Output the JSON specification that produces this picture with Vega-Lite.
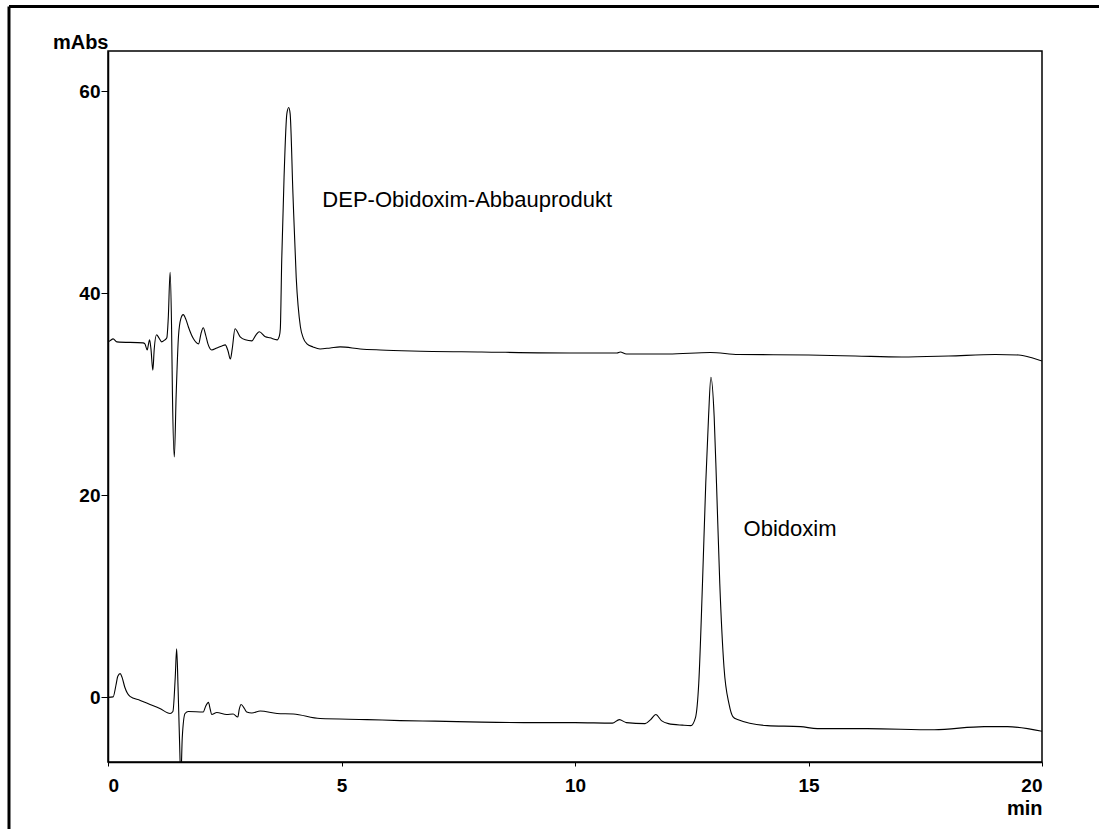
{
  "$schema": "https://vega.github.io/schema/vega-lite/v6.json",
  "autosize": {"type": "none"},
  "padding": {"left": 108, "top": 51, "right": 57, "bottom": 67},
  "width": 934,
  "height": 711,
  "background": "white",
  "config": {
    "view": {"stroke": "black", "strokeWidth": 1.5},
    "font": "Liberation Sans",
    "axis": {
      "grid": false,
      "domainColor": "black",
      "domainWidth": 1.5,
      "tickColor": "black",
      "labelFont": "Liberation Sans",
      "labelFontWeight": "bold",
      "labelFontSize": 19,
      "labelColor": "black",
      "titleFont": "Liberation Sans",
      "titleFontWeight": "bold",
      "titleFontSize": 20,
      "titleColor": "black"
    }
  },
  "datasets": {
    "traces": [
      {"trace": "DEP", "time": 0.00, "mAbs": 35.2},
      {"trace": "DEP", "time": 0.04, "mAbs": 35.3},
      {"trace": "DEP", "time": 0.11, "mAbs": 35.5},
      {"trace": "DEP", "time": 0.19, "mAbs": 35.2},
      {"trace": "DEP", "time": 0.75, "mAbs": 35.1},
      {"trace": "DEP", "time": 0.79, "mAbs": 35.0},
      {"trace": "DEP", "time": 0.84, "mAbs": 34.4},
      {"trace": "DEP", "time": 0.86, "mAbs": 34.8},
      {"trace": "DEP", "time": 0.89, "mAbs": 35.4},
      {"trace": "DEP", "time": 0.92, "mAbs": 34.5},
      {"trace": "DEP", "time": 0.96, "mAbs": 32.4},
      {"trace": "DEP", "time": 0.99, "mAbs": 34.5},
      {"trace": "DEP", "time": 1.04, "mAbs": 35.9},
      {"trace": "DEP", "time": 1.09, "mAbs": 35.6},
      {"trace": "DEP", "time": 1.15, "mAbs": 35.2},
      {"trace": "DEP", "time": 1.22, "mAbs": 35.4},
      {"trace": "DEP", "time": 1.26, "mAbs": 35.6},
      {"trace": "DEP", "time": 1.29, "mAbs": 37.5},
      {"trace": "DEP", "time": 1.33, "mAbs": 42.1},
      {"trace": "DEP", "time": 1.36, "mAbs": 37.0},
      {"trace": "DEP", "time": 1.38, "mAbs": 30.0},
      {"trace": "DEP", "time": 1.42, "mAbs": 23.8},
      {"trace": "DEP", "time": 1.46, "mAbs": 30.0},
      {"trace": "DEP", "time": 1.51, "mAbs": 35.8},
      {"trace": "DEP", "time": 1.56, "mAbs": 37.5},
      {"trace": "DEP", "time": 1.61, "mAbs": 37.9},
      {"trace": "DEP", "time": 1.67, "mAbs": 37.4},
      {"trace": "DEP", "time": 1.72, "mAbs": 36.7},
      {"trace": "DEP", "time": 1.83, "mAbs": 35.5},
      {"trace": "DEP", "time": 1.94, "mAbs": 35.0},
      {"trace": "DEP", "time": 1.99, "mAbs": 36.0},
      {"trace": "DEP", "time": 2.04, "mAbs": 36.6},
      {"trace": "DEP", "time": 2.09, "mAbs": 35.9},
      {"trace": "DEP", "time": 2.14, "mAbs": 35.0},
      {"trace": "DEP", "time": 2.22, "mAbs": 34.4},
      {"trace": "DEP", "time": 2.33, "mAbs": 34.6},
      {"trace": "DEP", "time": 2.44, "mAbs": 34.8},
      {"trace": "DEP", "time": 2.51, "mAbs": 34.9},
      {"trace": "DEP", "time": 2.57, "mAbs": 34.3},
      {"trace": "DEP", "time": 2.62, "mAbs": 33.5},
      {"trace": "DEP", "time": 2.66, "mAbs": 34.5},
      {"trace": "DEP", "time": 2.72, "mAbs": 36.5},
      {"trace": "DEP", "time": 2.83, "mAbs": 35.7},
      {"trace": "DEP", "time": 2.94, "mAbs": 35.4},
      {"trace": "DEP", "time": 3.08, "mAbs": 35.3},
      {"trace": "DEP", "time": 3.17, "mAbs": 35.9},
      {"trace": "DEP", "time": 3.24, "mAbs": 36.2},
      {"trace": "DEP", "time": 3.37, "mAbs": 35.7},
      {"trace": "DEP", "time": 3.47, "mAbs": 35.6},
      {"trace": "DEP", "time": 3.62, "mAbs": 35.4},
      {"trace": "DEP", "time": 3.67, "mAbs": 35.8},
      {"trace": "DEP", "time": 3.69, "mAbs": 36.5},
      {"trace": "DEP", "time": 3.72, "mAbs": 43.3},
      {"trace": "DEP", "time": 3.77, "mAbs": 51.5},
      {"trace": "DEP", "time": 3.83, "mAbs": 57.8},
      {"trace": "DEP", "time": 3.87, "mAbs": 58.4},
      {"trace": "DEP", "time": 3.90, "mAbs": 57.8},
      {"trace": "DEP", "time": 3.96, "mAbs": 49.9},
      {"trace": "DEP", "time": 4.03, "mAbs": 41.6},
      {"trace": "DEP", "time": 4.12, "mAbs": 36.7},
      {"trace": "DEP", "time": 4.18, "mAbs": 35.6},
      {"trace": "DEP", "time": 4.26, "mAbs": 35.0},
      {"trace": "DEP", "time": 4.39, "mAbs": 34.7},
      {"trace": "DEP", "time": 4.54, "mAbs": 34.5},
      {"trace": "DEP", "time": 4.76, "mAbs": 34.6},
      {"trace": "DEP", "time": 4.97, "mAbs": 34.7},
      {"trace": "DEP", "time": 5.40, "mAbs": 34.5},
      {"trace": "DEP", "time": 5.83, "mAbs": 34.4},
      {"trace": "DEP", "time": 6.50, "mAbs": 34.3},
      {"trace": "DEP", "time": 8.00, "mAbs": 34.2},
      {"trace": "DEP", "time": 10.00, "mAbs": 34.1},
      {"trace": "DEP", "time": 10.90, "mAbs": 34.1},
      {"trace": "DEP", "time": 10.97, "mAbs": 34.2},
      {"trace": "DEP", "time": 11.10, "mAbs": 34.0},
      {"trace": "DEP", "time": 12.00, "mAbs": 34.0},
      {"trace": "DEP", "time": 12.90, "mAbs": 34.15},
      {"trace": "DEP", "time": 13.50, "mAbs": 33.95},
      {"trace": "DEP", "time": 15.00, "mAbs": 33.9},
      {"trace": "DEP", "time": 16.00, "mAbs": 33.8},
      {"trace": "DEP", "time": 17.00, "mAbs": 33.7},
      {"trace": "DEP", "time": 18.00, "mAbs": 33.8},
      {"trace": "DEP", "time": 19.00, "mAbs": 33.95},
      {"trace": "DEP", "time": 19.50, "mAbs": 33.9},
      {"trace": "DEP", "time": 19.80, "mAbs": 33.6},
      {"trace": "DEP", "time": 20.00, "mAbs": 33.3},

      {"trace": "Obidoxim", "time": 0.00, "mAbs": 0.0},
      {"trace": "Obidoxim", "time": 0.11, "mAbs": 0.05},
      {"trace": "Obidoxim", "time": 0.17, "mAbs": 1.2},
      {"trace": "Obidoxim", "time": 0.21, "mAbs": 2.1},
      {"trace": "Obidoxim", "time": 0.26, "mAbs": 2.35},
      {"trace": "Obidoxim", "time": 0.30, "mAbs": 2.0},
      {"trace": "Obidoxim", "time": 0.36, "mAbs": 1.0},
      {"trace": "Obidoxim", "time": 0.47, "mAbs": 0.1},
      {"trace": "Obidoxim", "time": 0.69, "mAbs": -0.3},
      {"trace": "Obidoxim", "time": 0.90, "mAbs": -0.7},
      {"trace": "Obidoxim", "time": 1.11, "mAbs": -1.1},
      {"trace": "Obidoxim", "time": 1.33, "mAbs": -1.6},
      {"trace": "Obidoxim", "time": 1.39, "mAbs": -1.4},
      {"trace": "Obidoxim", "time": 1.44, "mAbs": 2.0},
      {"trace": "Obidoxim", "time": 1.47, "mAbs": 4.8},
      {"trace": "Obidoxim", "time": 1.50, "mAbs": 1.0},
      {"trace": "Obidoxim", "time": 1.53, "mAbs": -4.0},
      {"trace": "Obidoxim", "time": 1.56, "mAbs": -8.0},
      {"trace": "Obidoxim", "time": 1.59, "mAbs": -4.0},
      {"trace": "Obidoxim", "time": 1.65, "mAbs": -1.6},
      {"trace": "Obidoxim", "time": 1.72, "mAbs": -1.4},
      {"trace": "Obidoxim", "time": 2.04, "mAbs": -1.45},
      {"trace": "Obidoxim", "time": 2.09, "mAbs": -0.9},
      {"trace": "Obidoxim", "time": 2.15, "mAbs": -0.5},
      {"trace": "Obidoxim", "time": 2.19, "mAbs": -1.2},
      {"trace": "Obidoxim", "time": 2.22, "mAbs": -1.7},
      {"trace": "Obidoxim", "time": 2.33, "mAbs": -1.5},
      {"trace": "Obidoxim", "time": 2.54, "mAbs": -1.7},
      {"trace": "Obidoxim", "time": 2.68, "mAbs": -1.65},
      {"trace": "Obidoxim", "time": 2.78, "mAbs": -1.95},
      {"trace": "Obidoxim", "time": 2.81, "mAbs": -1.2},
      {"trace": "Obidoxim", "time": 2.85, "mAbs": -0.7},
      {"trace": "Obidoxim", "time": 2.92, "mAbs": -1.1},
      {"trace": "Obidoxim", "time": 2.97, "mAbs": -1.45},
      {"trace": "Obidoxim", "time": 3.08, "mAbs": -1.55},
      {"trace": "Obidoxim", "time": 3.26, "mAbs": -1.35},
      {"trace": "Obidoxim", "time": 3.62, "mAbs": -1.6},
      {"trace": "Obidoxim", "time": 3.97, "mAbs": -1.65},
      {"trace": "Obidoxim", "time": 4.54, "mAbs": -2.1},
      {"trace": "Obidoxim", "time": 5.55, "mAbs": -2.2},
      {"trace": "Obidoxim", "time": 6.26, "mAbs": -2.3},
      {"trace": "Obidoxim", "time": 7.00, "mAbs": -2.35},
      {"trace": "Obidoxim", "time": 8.00, "mAbs": -2.45},
      {"trace": "Obidoxim", "time": 9.00, "mAbs": -2.5},
      {"trace": "Obidoxim", "time": 10.00, "mAbs": -2.5},
      {"trace": "Obidoxim", "time": 10.80, "mAbs": -2.55},
      {"trace": "Obidoxim", "time": 10.95, "mAbs": -2.2},
      {"trace": "Obidoxim", "time": 11.10, "mAbs": -2.5},
      {"trace": "Obidoxim", "time": 11.50, "mAbs": -2.6},
      {"trace": "Obidoxim", "time": 11.62, "mAbs": -2.2},
      {"trace": "Obidoxim", "time": 11.73, "mAbs": -1.7},
      {"trace": "Obidoxim", "time": 11.85, "mAbs": -2.3},
      {"trace": "Obidoxim", "time": 12.00, "mAbs": -2.6},
      {"trace": "Obidoxim", "time": 12.30, "mAbs": -2.75},
      {"trace": "Obidoxim", "time": 12.48, "mAbs": -2.8},
      {"trace": "Obidoxim", "time": 12.58, "mAbs": -2.0},
      {"trace": "Obidoxim", "time": 12.65, "mAbs": 1.4},
      {"trace": "Obidoxim", "time": 12.73, "mAbs": 11.3},
      {"trace": "Obidoxim", "time": 12.80, "mAbs": 21.2},
      {"trace": "Obidoxim", "time": 12.86, "mAbs": 27.8},
      {"trace": "Obidoxim", "time": 12.91, "mAbs": 31.7},
      {"trace": "Obidoxim", "time": 12.98, "mAbs": 27.8},
      {"trace": "Obidoxim", "time": 13.03, "mAbs": 21.2},
      {"trace": "Obidoxim", "time": 13.10, "mAbs": 11.3},
      {"trace": "Obidoxim", "time": 13.19, "mAbs": 3.0},
      {"trace": "Obidoxim", "time": 13.30, "mAbs": -0.7},
      {"trace": "Obidoxim", "time": 13.38, "mAbs": -1.9},
      {"trace": "Obidoxim", "time": 13.48, "mAbs": -2.2},
      {"trace": "Obidoxim", "time": 14.12, "mAbs": -2.8},
      {"trace": "Obidoxim", "time": 14.83, "mAbs": -2.9},
      {"trace": "Obidoxim", "time": 15.19, "mAbs": -3.1},
      {"trace": "Obidoxim", "time": 16.26, "mAbs": -3.1},
      {"trace": "Obidoxim", "time": 17.69, "mAbs": -3.2},
      {"trace": "Obidoxim", "time": 18.76, "mAbs": -2.9},
      {"trace": "Obidoxim", "time": 19.26, "mAbs": -2.9},
      {"trace": "Obidoxim", "time": 20.00, "mAbs": -3.35}
    ],
    "labels": [
      {"label": "DEP-Obidoxim-Abbauprodukt", "time": 4.59, "mAbs": 48.6},
      {"label": "Obidoxim", "time": 13.61, "mAbs": 16.0}
    ]
  },
  "layer": [
    {
      "data": {"name": "traces"},
      "mark": {"type": "line", "color": "black", "strokeWidth": 1.1, "interpolate": "monotone", "clip": true},
      "encoding": {
        "x": {
          "field": "time", "type": "quantitative",
          "scale": {"domain": [0, 20], "nice": false, "zero": false},
          "axis": {
            "values": [0, 5, 10, 15, 20],
            "tickSize": 4,
            "labelPadding": 10,
            "labelFlush": true,
            "title": "min",
            "titleAlign": "right",
            "titleAnchor": null,
            "titleX": 934,
            "titleY": 52,
            "titleBaseline": "alphabetic"
          }
        },
        "y": {
          "field": "mAbs", "type": "quantitative",
          "scale": {"domain": [-6.4, 64], "nice": false, "zero": false},
          "axis": {
            "values": [0, 20, 40, 60],
            "tickSize": 7,
            "labelPadding": 1,
            "title": "mAbs",
            "titleAngle": 0,
            "titleAlign": "right",
            "titleAnchor": null,
            "titleX": 0,
            "titleY": -3,
            "titleBaseline": "alphabetic"
          }
        },
        "detail": {"field": "trace", "type": "nominal"}
      }
    },
    {
      "data": {"name": "labels"},
      "mark": {"type": "text", "align": "left", "baseline": "alphabetic", "font": "Liberation Sans", "fontSize": 22, "color": "black"},
      "encoding": {
        "x": {"field": "time", "type": "quantitative"},
        "y": {"field": "mAbs", "type": "quantitative"},
        "text": {"field": "label"}
      }
    },
    {
      "data": {"values": [{}]},
      "mark": {"type": "rule", "color": "black", "strokeWidth": 3, "clip": false},
      "encoding": {
        "x": {"datum": -2.12},
        "x2": {"datum": 23},
        "y": {"datum": 68.4}
      }
    },
    {
      "data": {"values": [{}]},
      "mark": {"type": "rule", "color": "black", "strokeWidth": 3, "clip": false},
      "encoding": {
        "x": {"datum": -2.12},
        "y": {"datum": -15},
        "y2": {"datum": 68.4}
      }
    }
  ]
}
